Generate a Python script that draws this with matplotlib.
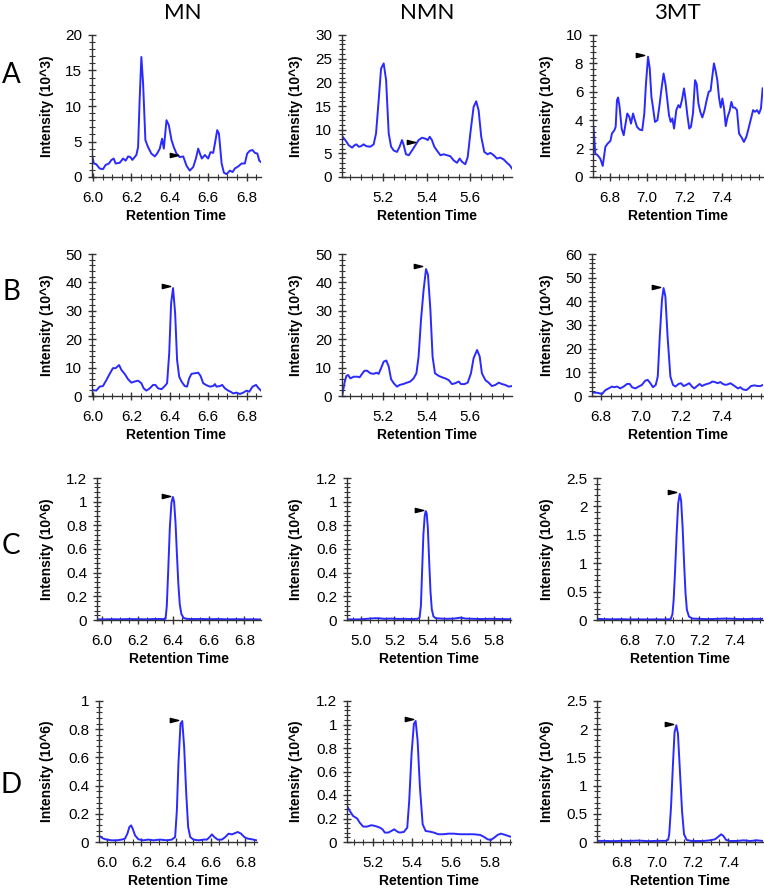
import matplotlib
matplotlib.use("Agg")
import matplotlib.pyplot as plt
from matplotlib.path import Path
from matplotlib.ticker import MultipleLocator, FixedLocator, FuncFormatter

plt.rcParams['font.family'] = ['Liberation Sans', 'DejaVu Sans']

# (retention time, intensity)
mn_a = [(5.995, 3.1), (6.005, 1.9), (6.017, 1.8), (6.035, 1.2), (6.052, 1.1), (6.066, 1.7),
        (6.083, 1.9), (6.096, 2.4), (6.108, 2.6), (6.118, 1.9), (6.139, 2.0), (6.157, 2.6),
        (6.170, 2.3), (6.183, 2.9), (6.195, 2.8), (6.205, 2.4), (6.217, 2.8), (6.226, 3.1),
        (6.235, 4.2), (6.243, 10.8), (6.252, 16.9), (6.261, 13.2), (6.273, 5.2), (6.287, 4.2),
        (6.304, 3.3), (6.322, 2.9), (6.334, 3.3), (6.348, 4.0), (6.360, 5.4), (6.369, 4.0),
        (6.383, 8.0), (6.395, 7.3), (6.409, 5.2), (6.421, 4.2), (6.435, 3.3), (6.452, 2.8),
        (6.470, 2.9), (6.487, 1.6), (6.504, 0.9), (6.522, 1.4), (6.536, 2.6), (6.548, 4.0),
        (6.557, 3.3), (6.567, 2.6), (6.583, 3.1), (6.600, 2.6), (6.612, 3.5), (6.626, 3.4),
        (6.635, 4.7), (6.647, 6.6), (6.656, 6.1), (6.670, 1.9), (6.682, 0.6), (6.696, 0.4),
        (6.713, 0.9), (6.727, 0.7), (6.739, 1.2), (6.757, 1.5), (6.774, 1.9), (6.791, 1.9),
        (6.803, 3.3), (6.817, 3.7), (6.831, 3.8), (6.843, 3.4), (6.856, 3.3), (6.866, 2.3),
        (6.875, 2.1)]
nmn_a = [(5.015, 8.5), (5.027, 7.8), (5.043, 6.7), (5.058, 6.2), (5.069, 6.7), (5.078, 6.9),
         (5.089, 6.4), (5.099, 6.5), (5.111, 6.9), (5.124, 6.5), (5.142, 6.4), (5.157, 6.9),
         (5.168, 9.2), (5.180, 16.2), (5.191, 22.9), (5.203, 24.0), (5.214, 20.5), (5.226, 9.2),
         (5.237, 6.4), (5.249, 5.6), (5.264, 5.3), (5.276, 6.4), (5.287, 7.8), (5.295, 6.7),
         (5.305, 4.8), (5.318, 4.6), (5.333, 5.6), (5.348, 6.7), (5.363, 7.8), (5.379, 8.3),
         (5.394, 8.1), (5.405, 7.8), (5.414, 8.5), (5.424, 7.8), (5.435, 6.4), (5.447, 5.6),
         (5.463, 4.6), (5.478, 4.8), (5.493, 4.6), (5.508, 4.4), (5.524, 3.5), (5.539, 3.0),
         (5.551, 3.9), (5.562, 3.2), (5.577, 2.7), (5.588, 4.2), (5.600, 9.2), (5.615, 14.8),
         (5.627, 16.0), (5.638, 14.1), (5.650, 8.5), (5.664, 5.3), (5.679, 4.8), (5.692, 5.1),
         (5.707, 4.6), (5.722, 3.9), (5.737, 4.1), (5.753, 3.7), (5.768, 3.0), (5.780, 2.5),
         (5.791, 1.8)]
mt_a = [(6.714, 3.53), (6.723, 1.65), (6.736, 1.53), (6.750, 1.29), (6.763, 0.78), (6.777, 2.12),
        (6.789, 2.35), (6.804, 2.54), (6.812, 3.06), (6.825, 3.29), (6.832, 3.53), (6.839, 5.41),
        (6.845, 5.6), (6.853, 4.94), (6.864, 3.41), (6.875, 2.94), (6.885, 3.76), (6.894, 4.47),
        (6.905, 4.24), (6.914, 3.76), (6.925, 4.47), (6.935, 4.0), (6.946, 3.53), (6.960, 3.34),
        (6.974, 3.29), (6.985, 4.47), (6.994, 6.59), (7.005, 8.47), (7.014, 7.65), (7.023, 5.65),
        (7.031, 4.94), (7.042, 3.88), (7.055, 4.0), (7.065, 4.94), (7.076, 6.12), (7.088, 7.29),
        (7.099, 6.47), (7.108, 5.41), (7.117, 4.35), (7.126, 3.88), (7.135, 4.12), (7.144, 3.41),
        (7.156, 4.71), (7.167, 5.06), (7.176, 4.89), (7.186, 5.41), (7.197, 6.24), (7.206, 5.41),
        (7.215, 4.35), (7.225, 3.41), (7.234, 3.53), (7.245, 4.47), (7.256, 6.82), (7.265, 6.54),
        (7.274, 5.18), (7.284, 4.59), (7.295, 4.19), (7.307, 4.71), (7.318, 5.41), (7.329, 6.0),
        (7.339, 6.07), (7.348, 7.06), (7.357, 8.0), (7.366, 7.48), (7.375, 6.82), (7.384, 5.6),
        (7.393, 4.89), (7.402, 5.53), (7.411, 4.82), (7.420, 3.58), (7.430, 4.24), (7.441, 4.66),
        (7.450, 5.29), (7.459, 4.89), (7.469, 4.89), (7.480, 4.71), (7.491, 3.06), (7.505, 2.78),
        (7.517, 2.47), (7.530, 2.82), (7.544, 3.53), (7.555, 4.12), (7.566, 4.71), (7.576, 4.59),
        (7.587, 4.71), (7.598, 4.47), (7.608, 4.82), (7.617, 6.24)]

mn_b = [(5.995, 2.1), (6.017, 1.9), (6.035, 3.3), (6.052, 3.5), (6.07, 5.6), (6.087, 7.8),
        (6.104, 9.8), (6.118, 9.8), (6.136, 10.9), (6.148, 9.2), (6.165, 7.8), (6.183, 5.9),
        (6.2, 4.7), (6.217, 5.1), (6.235, 5.4), (6.252, 4.5), (6.264, 2.7), (6.278, 1.9),
        (6.296, 2.7), (6.313, 3.9), (6.325, 3.9), (6.339, 2.7), (6.357, 2.4), (6.374, 3.5),
        (6.386, 4.5), (6.397, 15.0), (6.407, 32.7), (6.417, 38.0), (6.428, 29.0), (6.438, 12.7),
        (6.449, 6.8), (6.461, 5.1), (6.478, 3.5), (6.49, 3.3), (6.501, 6.2), (6.513, 7.8),
        (6.53, 8.0), (6.548, 8.2), (6.56, 7.1), (6.574, 4.5), (6.591, 3.8), (6.609, 3.3),
        (6.626, 3.5), (6.635, 4.2), (6.643, 3.3), (6.661, 3.5), (6.673, 3.9), (6.687, 2.7),
        (6.704, 1.9), (6.717, 1.5), (6.73, 0.9), (6.748, 1.2), (6.765, 0.7), (6.783, 1.2),
        (6.8, 1.9), (6.814, 1.5), (6.831, 3.3), (6.849, 3.9), (6.863, 2.7), (6.875, 1.9)]
nmn_b = [(5.013, 0.0), (5.023, 4.5), (5.032, 7.1), (5.04, 7.4), (5.05, 6.2), (5.066, 6.8),
         (5.081, 6.8), (5.093, 6.6), (5.104, 7.8), (5.115, 8.9), (5.127, 8.9), (5.142, 8.0),
         (5.157, 7.8), (5.17, 8.2), (5.18, 7.8), (5.191, 9.8), (5.203, 12.1), (5.215, 12.5),
         (5.226, 10.4), (5.237, 5.9), (5.249, 4.5), (5.264, 3.3), (5.276, 3.9), (5.292, 4.2),
         (5.31, 4.7), (5.325, 5.1), (5.34, 6.2), (5.353, 8.0), (5.363, 13.9), (5.374, 26.8),
         (5.386, 37.4), (5.397, 44.7), (5.406, 42.7), (5.417, 30.4), (5.427, 13.9), (5.438, 8.0),
         (5.455, 7.1), (5.47, 6.6), (5.485, 6.2), (5.501, 5.6), (5.516, 4.2), (5.531, 4.5),
         (5.547, 5.1), (5.557, 4.2), (5.573, 4.2), (5.588, 4.7), (5.603, 8.0), (5.615, 13.3),
         (5.631, 16.2), (5.643, 13.9), (5.653, 8.0), (5.669, 5.6), (5.684, 4.7), (5.699, 3.5),
         (5.715, 3.9), (5.73, 4.7), (5.745, 4.2), (5.76, 3.9), (5.776, 3.3), (5.791, 3.5)]
mt_b = [(6.76, 1.4), (6.78, 1.4), (6.805, 0.85), (6.822, 2.5), (6.838, 3.2), (6.855, 4.0),
        (6.866, 3.7), (6.88, 4.0), (6.896, 3.2), (6.913, 4.0), (6.93, 5.1), (6.943, 5.1),
        (6.955, 3.7), (6.971, 3.2), (6.988, 4.0), (7.004, 4.7), (7.021, 6.5), (7.033, 6.8),
        (7.046, 5.4), (7.059, 3.7), (7.073, 4.7), (7.083, 8.2), (7.093, 25.1), (7.104, 40.7),
        (7.112, 45.6), (7.121, 42.1), (7.132, 25.1), (7.146, 8.2), (7.159, 4.7), (7.171, 4.0),
        (7.187, 5.1), (7.199, 5.4), (7.212, 4.2), (7.225, 4.7), (7.24, 5.4), (7.254, 4.0),
        (7.265, 3.2), (7.279, 4.2), (7.292, 5.1), (7.304, 4.2), (7.315, 4.7), (7.329, 5.1),
        (7.342, 5.4), (7.355, 6.1), (7.368, 5.9), (7.382, 5.4), (7.395, 5.9), (7.408, 5.1),
        (7.42, 4.7), (7.432, 4.9), (7.445, 5.4), (7.458, 4.7), (7.47, 4.0), (7.483, 3.2),
        (7.495, 3.7), (7.508, 2.8), (7.525, 2.5), (7.536, 3.2), (7.548, 4.2), (7.565, 4.5),
        (7.581, 4.2), (7.595, 4.2), (7.608, 4.7)]

mn_c = [(5.975, 0.006), (6.0, 0.005), (6.05, 0.007), (6.1, 0.006), (6.15, 0.008), (6.2, 0.007),
        (6.25, 0.006), (6.3, 0.009), (6.35, 0.008), (6.357, 0.01), (6.364, 0.12), (6.372, 0.42),
        (6.381, 0.78), (6.39, 0.99), (6.398, 1.04), (6.405, 1.0), (6.413, 0.82), (6.421, 0.55),
        (6.429, 0.3), (6.437, 0.13), (6.446, 0.05), (6.458, 0.018), (6.475, 0.01), (6.5, 0.008),
        (6.55, 0.009), (6.6, 0.007), (6.65, 0.008), (6.7, 0.006), (6.75, 0.007), (6.8, 0.006),
        (6.85, 0.006), (6.893, 0.005)]
nmn_c = [(4.915, 0.006), (4.95, 0.005), (5.0, 0.006), (5.05, 0.012), (5.08, 0.015), (5.11, 0.014),
         (5.14, 0.01), (5.18, 0.012), (5.22, 0.009), (5.26, 0.01), (5.3, 0.008), (5.34, 0.01),
         (5.352, 0.02), (5.36, 0.12), (5.367, 0.4), (5.375, 0.72), (5.383, 0.88), (5.389, 0.92),
         (5.395, 0.9), (5.402, 0.78), (5.41, 0.5), (5.418, 0.24), (5.426, 0.09), (5.436, 0.03),
         (5.45, 0.015), (5.48, 0.012), (5.52, 0.01), (5.56, 0.012), (5.6, 0.02), (5.63, 0.012),
         (5.68, 0.01), (5.72, 0.008), (5.78, 0.01), (5.84, 0.008), (5.905, 0.007)]
mt_c = [(6.612, 0.02), (6.65, 0.015), (6.7, 0.012), (6.75, 0.015), (6.8, 0.01), (6.85, 0.012),
        (6.9, 0.01), (6.95, 0.012), (7.0, 0.01), (7.035, 0.015), (7.045, 0.1), (7.052, 0.35),
        (7.06, 0.85), (7.069, 1.5), (7.078, 2.05), (7.087, 2.22), (7.095, 2.1), (7.104, 1.6),
        (7.112, 1.0), (7.12, 0.48), (7.128, 0.18), (7.14, 0.06), (7.16, 0.025), (7.2, 0.02),
        (7.25, 0.015), (7.3, 0.02), (7.35, 0.025), (7.4, 0.02), (7.45, 0.015), (7.5, 0.02),
        (7.565, 0.02)]

mn_d = [(5.961, 0.04), (5.981, 0.024), (6.0, 0.017), (6.029, 0.012), (6.058, 0.012), (6.087, 0.017),
        (6.106, 0.024), (6.12, 0.06), (6.131, 0.106), (6.141, 0.118), (6.15, 0.095), (6.164, 0.047),
        (6.183, 0.019), (6.212, 0.012), (6.241, 0.017), (6.27, 0.012), (6.308, 0.017), (6.347, 0.012),
        (6.376, 0.017), (6.395, 0.035), (6.405, 0.225), (6.414, 0.556), (6.426, 0.839), (6.436, 0.858),
        (6.447, 0.674), (6.459, 0.343), (6.47, 0.106), (6.482, 0.035), (6.501, 0.017), (6.53, 0.012),
        (6.559, 0.017), (6.578, 0.017), (6.594, 0.035), (6.607, 0.054), (6.621, 0.035), (6.64, 0.017),
        (6.665, 0.017), (6.684, 0.035), (6.703, 0.059), (6.723, 0.054), (6.742, 0.064), (6.756, 0.071),
        (6.775, 0.059), (6.794, 0.035), (6.813, 0.024), (6.839, 0.019), (6.864, 0.012)]
nmn_d = [(5.066, 0.308), (5.08, 0.265), (5.097, 0.222), (5.118, 0.2), (5.131, 0.165), (5.149, 0.131),
         (5.169, 0.131), (5.191, 0.143), (5.209, 0.137), (5.234, 0.123), (5.248, 0.108), (5.26, 0.08),
         (5.277, 0.08), (5.294, 0.094), (5.308, 0.108), (5.324, 0.088), (5.337, 0.08), (5.358, 0.086),
         (5.375, 0.123), (5.385, 0.35), (5.397, 0.75), (5.409, 1.006), (5.418, 1.03), (5.428, 0.864),
         (5.44, 0.465), (5.454, 0.151), (5.469, 0.094), (5.492, 0.088), (5.512, 0.08), (5.534, 0.066),
         (5.56, 0.066), (5.586, 0.071), (5.612, 0.071), (5.646, 0.066), (5.68, 0.066), (5.715, 0.066),
         (5.749, 0.06), (5.769, 0.043), (5.787, 0.023), (5.804, 0.017), (5.821, 0.037), (5.838, 0.06),
         (5.855, 0.071), (5.878, 0.06), (5.903, 0.046)]
mt_d = [(6.665, 0.02), (6.7, 0.02), (6.75, 0.015), (6.8, 0.02), (6.85, 0.02), (6.9, 0.025),
        (6.95, 0.015), (7.0, 0.02), (7.05, 0.02), (7.062, 0.04), (7.068, 0.14), (7.078, 0.61),
        (7.089, 1.38), (7.098, 1.95), (7.108, 2.07), (7.117, 1.92), (7.128, 1.26), (7.14, 0.55),
        (7.151, 0.14), (7.166, 0.036), (7.194, 0.018), (7.222, 0.018), (7.26, 0.018), (7.297, 0.03),
        (7.325, 0.048), (7.344, 0.095), (7.359, 0.137), (7.372, 0.107), (7.387, 0.036), (7.41, 0.018),
        (7.447, 0.018), (7.485, 0.03), (7.522, 0.018), (7.56, 0.03), (7.594, 0.018)]

# black arrowheads marking the expected retention time
arrows = [[(6.421, 3.06), (5.328, 7.3), (6.964, 8.56)],
          [(6.379, 38.8), (5.362, 45.6), (7.076, 46.2)],
          [(6.357, 1.045), (5.346, 0.927), (7.042, 2.246)],
          [(6.389, 0.868), (5.382, 1.043), (7.065, 2.096)]]

compounds = ["MN", "NMN", "3MT"]
row_names = ["A", "B", "C", "D"]
traces = [[mn_a, nmn_a, mt_a], [mn_b, nmn_b, mt_b], [mn_c, nmn_c, mt_c], [mn_d, nmn_d, mt_d]]
units = ["10^3", "10^3", "10^6", "10^6"]
y_tops = [[20, 30, 10], [50, 50, 60], [1.2, 1.2, 2.5], [1, 1.2, 2.5]]
y_steps = [[5, 5, 2], [10, 10, 10], [0.2, 0.2, 0.5], [0.2, 0.2, 0.5]]
x_lims = [[(5.995, 6.875), (5.012, 5.791), (6.711, 7.619)],
          [(5.995, 6.875), (5.012, 5.791), (6.755, 7.608)],
          [(5.972, 6.893), (4.913, 5.905), (6.612, 7.565)],
          [(5.956, 6.867), (5.066, 5.907), (6.663, 7.594)]]
x_labels = [[[6.0, 6.2, 6.4, 6.6, 6.8], [5.2, 5.4, 5.6], [6.8, 7.0, 7.2, 7.4]],
            [[6.0, 6.2, 6.4, 6.6, 6.8], [5.2, 5.4, 5.6], [6.8, 7.0, 7.2, 7.4]],
            [[6.0, 6.2, 6.4, 6.6, 6.8], [5.0, 5.2, 5.4, 5.6, 5.8], [6.8, 7.0, 7.2, 7.4]],
            [[6.0, 6.2, 6.4, 6.6, 6.8], [5.2, 5.4, 5.6, 5.8], [6.8, 7.0, 7.2, 7.4]]]

# axes boxes in pixels: left, right, top, bottom
W, H = 764, 889
boxes = [[(92, 261, 35, 177), (342, 512, 35, 177), (593, 763, 35, 177)],
         [(92, 261, 254, 396), (342, 512, 254, 396), (592, 763, 254, 396)],
         [(97, 261, 478, 620), (347, 511, 478, 620), (597, 763, 478, 620)],
         [(99, 257, 701, 842), (347, 511, 701, 842), (597, 763, 701, 842)]]
ylabel_x = [47, 296, 547]
col_title_x = [183, 427, 677]
row_letter_y = [75, 292, 546, 785]

arrow_head = Path([(-1, 0.5), (1, 0), (-1, -0.5), (-1, 0.5)],
                  [Path.MOVETO, Path.LINETO, Path.LINETO, Path.CLOSEPOLY])
axis_col = "#333333"
line_col = "#2a2aff"

fig = plt.figure(figsize=(W / 100, H / 100), dpi=100)

for r in range(4):
    for c in range(3):
        x0, x1, y0, y1 = boxes[r][c]
        ax = fig.add_axes([x0 / W, 1 - y1 / H, (x1 - x0) / W, (y1 - y0) / H])
        t, inten = zip(*traces[r][c])
        ax.plot(t, inten, color=line_col, lw=1.4, solid_joinstyle="round")
        at, ai = arrows[r][c]
        ax.plot([at], [ai], ls="none", marker=arrow_head, ms=6, color="black")

        ax.set_xlim(*x_lims[r][c])
        ax.set_ylim(0, y_tops[r][c])
        ax.xaxis.set_major_locator(FixedLocator(x_labels[r][c]))
        ax.xaxis.set_major_formatter(FuncFormatter(lambda v, p: f"{v:.1f}"))
        ax.xaxis.set_minor_locator(MultipleLocator(0.05))
        ax.yaxis.set_major_locator(MultipleLocator(y_steps[r][c]))
        ax.yaxis.set_major_formatter(FuncFormatter(lambda v, p: f"{v:g}"))
        ax.yaxis.set_minor_locator(MultipleLocator(y_steps[r][c] / 5))

        for side in ("top", "right"):
            ax.spines[side].set_visible(False)
        for side in ("left", "bottom"):
            ax.spines[side].set_color(axis_col)
            ax.spines[side].set_linewidth(1.0)
        ax.tick_params(which="major", direction="inout", length=6, width=1.0,
                       color=axis_col, labelsize=11)
        ax.tick_params(axis="x", which="major", pad=7)
        ax.tick_params(axis="y", which="major", pad=4)
        ax.tick_params(which="minor", direction="inout", length=4, width=0.8, color=axis_col)
        ax.patch.set_alpha(0)

        ax.set_xlabel("Retention Time", fontsize=10, fontweight="bold", va="center")
        ax.xaxis.set_label_coords(0.5, -39 / (y1 - y0))
        ax.set_ylabel(f"Intensity ({units[r]})", fontsize=10, fontweight="bold")
        ax.yaxis.label.set_va("center")
        ax.yaxis.set_label_coords((ylabel_x[c] - x0) / (x1 - x0), 0.5)

for c in range(3):
    fig.text(col_title_x[c] / W, 1 - 13 / H, compounds[c], fontsize=16,
             family=["Lato", "DejaVu Sans"], ha="center", va="center")
for r in range(4):
    fig.text(11 / W, 1 - row_letter_y[r] / H, row_names[r], fontsize=20,
             family=["Lato", "DejaVu Sans"], ha="center", va="center")

fig.savefig("out.png", dpi=100)
